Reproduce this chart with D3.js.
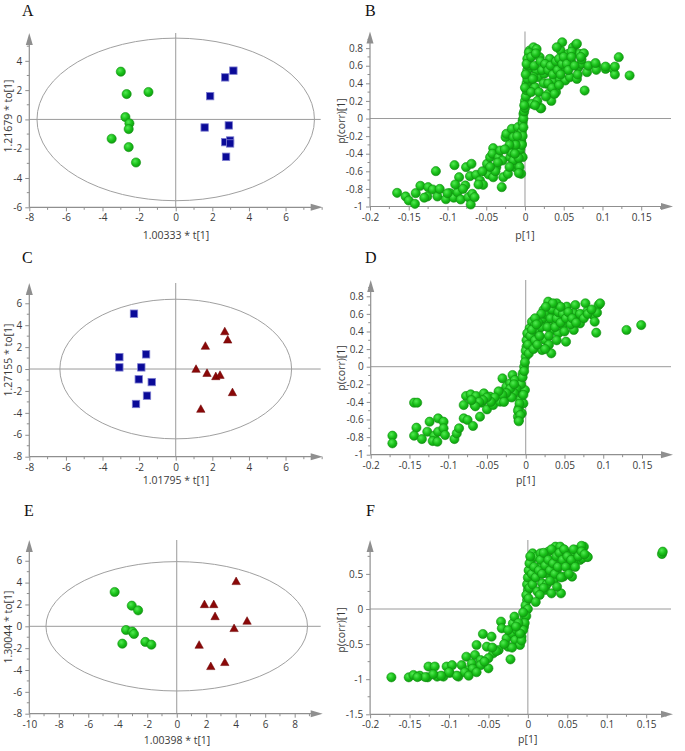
<!DOCTYPE html>
<html><head><meta charset="utf-8">
<script src="https://cdn.jsdelivr.net/npm/d3@7"></script>
<style>body{margin:0;background:#fff}svg{display:block}</style>
</head><body><svg id="c" width="685" height="751"></svg>
<script>
// ---------- DATA ----------
const panelLetters = ["A","B","C","D","E","F"];
const xTicksScoreAC = [-8,-6,-4,-2,0,2,4,6];
const yTicksScoreA = [-6,-4,-2,0,2,4];
const yTicksScoreC = [-8,-6,-4,-2,0,2,4,6];
const xTicksScoreE = [-10,-8,-6,-4,-2,0,2,4,6,8];
const yTicksScoreE = [-8,-6,-4,-2,0,2,4,6];
const xTicksLoad = [-0.2,-0.15,-0.1,-0.05,0,0.05,0.1,0.15];
const yTicksLoadBD = [-1,-0.8,-0.6,-0.4,-0.2,0,0.2,0.4,0.6,0.8];
const yTicksLoadF = [-1.5,-1,-0.5,0,0.5];
const xTitles = ["1.00333 * t[1]","p[1]","1.01795 * t[1]","p[1]","1.00398 * t[1]","p[1]"];
const yTitles = ["1.21679 * to[1]","p(corr)[1]","1.27155 * to[1]","p(corr)[1]","1.30044 * to[1]","p(corr)[1]"];
const ellipseRadii = [[7.58,5.55],null,[6.33,6.37],null,[8.87,5.92],null];

// Score plot A
const aGreen = [[-3.0,3.26],[-2.68,1.73],[-1.49,1.87],[-2.75,0.16],[-2.53,-0.27],[-2.57,-0.66],[-3.5,-1.32],[-2.57,-1.89],[-2.17,-2.94]];
const aBlue = [[3.15,3.33],[2.70,2.87],[1.88,1.59],[1.58,-0.55],[2.90,-0.41],[2.70,-1.55],[2.97,-1.44],[2.97,-1.64],[2.75,-2.55]];
// Score plot C
const cBlue = [[-2.28,5.05],[-3.08,1.09],[-3.08,0.15],[-1.62,1.34],[-1.88,0.15],[-2.02,-0.94],[-1.31,-1.19],[-1.57,-2.43],[-2.17,-3.19]];
const cRed = [[2.68,3.40],[2.84,2.64],[1.62,2.07],[1.11,-0.03],[1.71,-0.40],[2.19,-0.70],[2.42,-0.58],[3.10,-2.16],[1.37,-3.68]];
// Score plot E
const eGreen = [[-4.21,3.14],[-3.05,1.89],[-2.62,1.46],[-3.44,-0.34],[-3.01,-0.49],[-2.90,-0.70],[-3.69,-1.59],[-2.13,-1.43],[-1.72,-1.68]];
const eRed = [[4.03,4.09],[1.88,1.98],[2.51,1.98],[2.60,0.88],[4.77,0.46],[3.89,-0.21],[1.52,-1.74],[2.31,-3.69],[3.26,-3.32]];

// Loadings B
const bLoad = [[-0.165,-0.845],[-0.154,-0.886],[-0.150,-0.932],[-0.142,-0.970],[-0.141,-0.848],[-0.135,-0.765],[-0.125,-0.780],[-0.119,-0.807],[-0.115,-0.598],[-0.126,-0.886],[-0.113,-0.886],[-0.110,-0.80],[-0.102,-0.917],[-0.097,-0.848],[-0.091,-0.53],[-0.092,-0.90],[-0.087,-0.837],[-0.085,-0.667],[-0.083,-0.92],[-0.077,-0.761],[-0.076,-0.553],[-0.073,-0.894],[-0.071,-0.655],[-0.070,-0.977],[-0.068,-0.856],[-0.065,-0.894],[-0.063,-0.64],[-0.069,-0.515],[-0.058,-0.705],[-0.054,-0.754],[-0.052,-0.598],[-0.049,-0.515],[-0.045,-0.44],[-0.041,-0.337],[-0.042,-0.40],[-0.047,-0.636],[-0.041,-0.667],[-0.037,-0.553],[-0.034,-0.44],[-0.032,-0.364],[-0.029,-0.477],[-0.030,-0.78],[-0.028,-0.667],[-0.025,-0.212],[-0.024,-0.174],[-0.022,-0.629],[-0.019,-0.44],[-0.017,-0.117],[-0.018,-0.383],[-0.015,-0.212],[-0.013,-0.553],[-0.011,-0.326],[-0.009,-0.098],[-0.006,-0.40],[-0.005,-0.629],[-0.004,-0.288],[-0.003,-0.023],[-0.006,-0.174],[-0.009,-0.534],[-0.015,-0.477],[-0.003,-0.44],[-0.002,0.053],[0.000,0.20],[0.001,0.356],[0.002,0.508],[0.004,0.659],[0.006,0.773],[0.011,0.81],[0.015,0.79],[0.009,0.58],[0.006,0.43],[0.003,0.28],[0.009,0.167],[0.013,0.356],[0.017,0.47],[0.021,0.117],[0.019,0.697],[0.026,0.62],[0.028,0.394],[0.030,0.28],[0.032,0.678],[0.037,0.432],[0.039,0.564],[0.040,0.30],[0.043,0.66],[0.045,0.45],[0.046,0.773],[0.048,0.867],[0.050,0.583],[0.052,0.432],[0.056,0.735],[0.058,0.47],[0.060,0.64],[0.062,0.81],[0.066,0.84],[0.067,0.45],[0.069,0.583],[0.070,0.735],[0.073,0.62],[0.076,0.742],[0.077,0.318],[0.080,0.527],[0.082,0.60],[0.092,0.60],[0.092,0.553],[0.104,0.564],[0.114,0.564],[0.116,0.50],[0.121,0.697],[0.135,0.489],[0.041,0.81],[0.034,0.20],[0.025,0.508],[0.015,0.545],[0.011,0.47],[0.067,0.85],[0.060,0.76],[0.073,0.67],[0.091,0.63],[0.104,0.59],[0.116,0.59],[0.020,0.116],
[-0.008,-0.45],[-0.006,-0.35],[-0.005,-0.25],[-0.004,-0.15],[-0.003,-0.05],[-0.002,0.0],[-0.001,0.08],[0.0,0.12],[0.001,0.25],[0.002,0.32],[0.002,0.4],[0.003,0.45],[0.003,0.55],[0.004,0.6],[0.005,0.7],[0.005,0.75],[0.003,0.68],[0.002,0.62],[0.001,0.5],[0.0,0.35],[-0.001,0.15],[-0.002,-0.1],[-0.003,-0.2],[-0.004,-0.3],[-0.007,-0.55],[-0.008,-0.62],[-0.01,-0.2],[-0.012,-0.3],[-0.013,-0.4],[0.008,0.3],[0.01,0.45],[0.012,0.6],[0.008,0.7],[0.014,0.74],[0.02,0.65],[0.022,0.55],[0.024,0.4],[0.018,0.3],[0.016,0.2],[0.013,0.15],[0.026,0.62],[0.03,0.55],[0.033,0.6],[0.036,0.5],[0.04,0.65],[0.042,0.55],[0.044,0.68],[0.048,0.62],[0.05,0.7],[0.054,0.62],[0.056,0.55],[0.06,0.7],[0.064,0.6],[0.068,0.5],[0.072,0.7],[0.03,0.4],[0.035,0.35],[0.038,0.28],[0.027,0.25],[0.044,0.38],[0.046,0.5],[-0.02,-0.3],[-0.026,-0.35],[-0.035,-0.5],[-0.038,-0.6],[-0.045,-0.55],[-0.055,-0.6],[-0.06,-0.75],[-0.08,-0.8],[-0.1,-0.85],[-0.13,-0.9],[-0.09,-0.75],[-0.02,-0.55]];

// Loadings D
const dLoad = [[-0.172,-0.784],[-0.172,-0.871],[-0.144,-0.409],[-0.140,-0.409],[-0.141,-0.693],[-0.144,-0.784],[-0.134,-0.822],[-0.124,-0.625],[-0.127,-0.739],[-0.118,-0.784],[-0.120,-0.845],[-0.114,-0.852],[-0.113,-0.587],[-0.113,-0.739],[-0.106,-0.625],[-0.106,-0.70],[-0.104,-0.777],[-0.092,-0.822],[-0.089,-0.758],[-0.086,-0.70],[-0.080,-0.587],[-0.080,-0.436],[-0.077,-0.333],[-0.075,-0.606],[-0.068,-0.674],[-0.071,-0.314],[-0.066,-0.436],[-0.064,-0.333],[-0.059,-0.568],[-0.057,-0.409],[-0.054,-0.303],[-0.050,-0.485],[-0.046,-0.341],[-0.042,-0.436],[-0.037,-0.341],[-0.033,-0.398],[-0.030,-0.133],[-0.029,-0.284],[-0.025,-0.227],[-0.022,-0.341],[-0.020,-0.189],[-0.017,-0.095],[-0.016,-0.284],[-0.014,-0.152],[-0.010,-0.568],[-0.009,-0.606],[-0.009,-0.473],[-0.007,-0.379],[-0.005,-0.303],[-0.004,-0.076],[-0.003,-0.417],[-0.005,-0.53],[-0.001,-0.265],[-0.002,0.0],[0.000,0.114],[0.001,0.227],[0.003,0.341],[0.005,0.436],[0.008,0.511],[0.012,0.473],[0.014,0.379],[0.018,0.530],[0.025,0.303],[0.027,0.53],[0.029,0.739],[0.033,0.152],[0.034,0.417],[0.036,0.625],[0.040,0.72],[0.042,0.379],[0.044,0.568],[0.048,0.473],[0.052,0.284],[0.053,0.682],[0.057,0.549],[0.062,0.417],[0.064,0.70],[0.068,0.587],[0.070,0.492],[0.077,0.72],[0.079,0.625],[0.087,0.587],[0.089,0.511],[0.091,0.386],[0.094,0.70],[0.096,0.72],[0.092,0.614],[0.130,0.417],[0.149,0.473],[0.038,0.511],[0.023,0.644],[0.016,0.417],[0.010,0.303],[0.021,0.189],[0.062,0.606],[0.074,0.568],
[-0.006,-0.2],[-0.004,-0.12],[-0.003,-0.32],[-0.002,-0.05],[-0.001,0.05],[0.0,0.18],[0.001,0.3],[0.002,0.38],[0.003,0.25],[0.004,0.15],[-0.008,-0.42],[-0.01,-0.5],[-0.007,-0.55],[-0.009,-0.62],[-0.012,-0.25],[-0.015,-0.3],[-0.02,-0.25],[-0.018,-0.35],[-0.025,-0.3],[-0.03,-0.32],[-0.035,-0.28],[-0.04,-0.35],[-0.045,-0.4],[-0.05,-0.35],[-0.055,-0.38],[-0.06,-0.4],[-0.065,-0.45],[-0.07,-0.38],[-0.028,-0.4],[-0.015,-0.2],[0.006,0.35],[0.008,0.42],[0.01,0.2],[0.012,0.3],[0.015,0.25],[0.018,0.35],[0.02,0.45],[0.022,0.55],[0.025,0.6],[0.028,0.45],[0.03,0.35],[0.032,0.55],[0.034,0.65],[0.038,0.45],[0.04,0.55],[0.042,0.62],[0.045,0.5],[0.048,0.6],[0.05,0.4],[0.052,0.55],[0.055,0.62],[0.058,0.48],[0.06,0.55],[0.065,0.5],[0.07,0.6],[0.075,0.55],[0.08,0.6],[0.085,0.65],[0.045,0.68],[0.035,0.72],[0.026,0.68],[0.02,0.6],[0.016,0.5],[0.03,0.25],[0.025,0.2],[0.04,0.3],[0.012,0.55],[0.014,0.48]];

// Loadings F
const fLoad = [[-0.173,-0.973],[-0.151,-0.973],[-0.145,-0.94],[-0.137,-0.95],[-0.126,-0.82],[-0.127,-0.973],[-0.118,-0.82],[-0.115,-0.963],[-0.107,-0.963],[-0.103,-0.82],[-0.096,-0.80],[-0.099,-0.91],[-0.088,-0.963],[-0.084,-0.80],[-0.078,-0.68],[-0.075,-0.87],[-0.071,-0.774],[-0.067,-0.655],[-0.065,-0.513],[-0.060,-0.727],[-0.057,-0.356],[-0.052,-0.537],[-0.050,-0.845],[-0.046,-0.394],[-0.044,-0.632],[-0.037,-0.584],[-0.034,-0.18],[-0.033,-0.275],[-0.027,-0.418],[-0.025,-0.537],[-0.022,-0.717],[-0.020,-0.347],[-0.019,-0.204],[-0.017,-0.109],[-0.016,-0.442],[-0.014,-0.299],[-0.010,-0.513],[-0.008,-0.394],[-0.005,-0.252],[-0.004,-0.109],[-0.003,-0.014],[-0.001,0.128],[0.000,0.271],[0.001,0.413],[0.002,0.556],[0.004,0.698],[0.006,0.793],[0.011,0.745],[0.016,0.603],[0.018,0.366],[0.022,0.271],[0.024,0.508],[0.026,0.817],[0.030,0.223],[0.033,0.413],[0.035,0.888],[0.037,0.556],[0.039,0.698],[0.041,0.888],[0.042,0.223],[0.045,0.461],[0.049,0.793],[0.052,0.603],[0.056,0.461],[0.058,0.793],[0.062,0.84],[0.066,0.698],[0.071,0.888],[0.075,0.745],[0.069,0.722],[0.058,0.65],[0.170,0.783],[0.171,0.817],[0.022,0.745],[0.016,0.793],[0.037,0.318],[0.054,0.698],[0.068,0.90],[0.076,0.74],
[-0.003,0.05],[-0.002,0.2],[-0.001,0.35],[0.0,0.45],[0.001,0.55],[0.002,0.65],[0.003,0.75],[0.002,0.3],[0.001,0.15],[0.0,0.0],[-0.002,-0.1],[-0.004,-0.2],[-0.006,-0.3],[-0.008,-0.45],[-0.01,-0.35],[-0.012,-0.2],[-0.006,-0.05],[0.005,0.5],[0.006,0.35],[0.008,0.6],[0.01,0.45],[0.012,0.25],[0.014,0.55],[0.016,0.7],[0.018,0.5],[0.02,0.8],[0.022,0.62],[0.024,0.35],[0.026,0.7],[0.028,0.55],[0.03,0.85],[0.032,0.65],[0.034,0.5],[0.036,0.75],[0.038,0.6],[0.04,0.8],[0.042,0.45],[0.044,0.7],[0.046,0.85],[0.048,0.6],[0.05,0.75],[0.052,0.5],[0.055,0.7],[0.058,0.85],[0.06,0.6],[0.064,0.75],[0.068,0.82],[0.072,0.78],[0.028,0.4],[0.02,0.3],[0.015,0.2],[0.01,0.1],[-0.02,-0.55],[-0.03,-0.5],[-0.04,-0.6],[-0.05,-0.7],[-0.06,-0.8],[-0.07,-0.85],[-0.08,-0.9],[-0.09,-0.95],[-0.1,-0.9],[-0.11,-0.95],[-0.12,-0.93],[-0.13,-0.97],[-0.14,-0.97],[-0.075,-0.95],[-0.065,-0.9],[-0.055,-0.75],[-0.045,-0.55],[-0.025,-0.3],[-0.015,-0.25]];

// ---------- LAYOUT ----------
const panels = [
  {xd:[-8,8.03], xr:[29.3,322.7], yd:[-6,5.9], yr:[207.3,33], xt:xTicksScoreAC, yt:yTicksScoreA, xm:1, ym:1,
   letter:[22,15.5], ylab:[8,116], xlab:[176,238.5], series:[{d:aGreen,m:"c"},{d:aBlue,m:"s"}]},
  {xd:[-0.2,0.191], xr:[370,673], yd:[-1,0.989], yr:[206.5,31.5], xt:xTicksLoad, yt:yTicksLoadBD, xm:0.025, ym:0.1,
   letter:[365,15.5], ylab:[341,121], xlab:[525,239], series:[{d:bLoad,m:"c"}]},
  {xd:[-8,8.03], xr:[29.3,322.7], yd:[-8,7.85], yr:[456.7,283], xt:xTicksScoreAC, yt:yTicksScoreC, xm:1, ym:1,
   letter:[22,263], ylab:[8,360], xlab:[176,484], series:[{d:cBlue,m:"s"},{d:cRed,m:"t"}]},
  {xd:[-0.2,0.19], xr:[370.7,673], yd:[-1,0.985], yr:[454.7,280], xt:xTicksLoad, yt:yTicksLoadBD, xm:0.025, ym:0.1,
   letter:[365,263], ylab:[341,368], xlab:[525.7,483.5], series:[{d:dLoad,m:"c"}]},
  {xd:[-10,9.9], xr:[29.3,322.7], yd:[-8,7.9], yr:[713.7,540], xt:xTicksScoreE, yt:yTicksScoreE, xm:1, ym:1,
   letter:[24,516], ylab:[8,627], xlab:[177,744], series:[{d:eGreen,m:"c"},{d:eRed,m:"t"}]},
  {xd:[-0.2,0.184], xr:[370.1,673], yd:[-1.5,0.983], yr:[714.3,540], xt:xTicksLoad, yt:yTicksLoadF, xm:0.025, ym:0.25,
   letter:[366,516], ylab:[341,630], xlab:[527.7,743], series:[{d:fLoad,m:"c"}]}
];

const svg = d3.select("#c");
const defs = svg.append("defs");
const g = defs.append("radialGradient").attr("id","gball").attr("cx","38%").attr("cy","35%").attr("r","70%");
g.append("stop").attr("offset","0%").attr("stop-color","#52ea52");
g.append("stop").attr("offset","55%").attr("stop-color","#19c019");
g.append("stop").attr("offset","100%").attr("stop-color","#0e980e");

const AX = "#8f8f8f", FONT = "'Open Sans', 'DejaVu Sans', sans-serif";

panels.forEach((p,i) => {
  const x = d3.scaleLinear().domain(p.xd).range(p.xr);
  const y = d3.scaleLinear().domain(p.yd).range(p.yr);
  const gp = svg.append("g");
  const x0 = p.xr[0], y0 = p.yr[0], xEnd = p.xr[1], yEnd = p.yr[1];

  // zero lines
  gp.append("line").attr("x1",x0).attr("x2",xEnd-2).attr("y1",y(0)).attr("y2",y(0))
    .attr("stroke","#9a9a9a").attr("stroke-width",1);
  gp.append("line").attr("x1",x(0)).attr("x2",x(0)).attr("y1",y0).attr("y2",yEnd)
    .attr("stroke","#9a9a9a").attr("stroke-width",1);

  // ellipse
  if (ellipseRadii[i]) {
    const [rx,ry] = ellipseRadii[i];
    gp.append("ellipse").attr("cx",x(0)).attr("cy",y(0))
      .attr("rx",x(rx)-x(0)).attr("ry",y(0)-y(ry))
      .attr("fill","none").attr("stroke","#a0a0a0").attr("stroke-width",1);
  }

  // minor ticks
  const xMinor = d3.range(p.xt[0], p.xd[1]+1e-9, p.xm).filter(v => !p.xt.some(t => Math.abs(t-v)<1e-9));
  const yMinor = d3.range(p.yt[0], p.yd[1]+1e-9, p.ym).filter(v => !p.yt.some(t => Math.abs(t-v)<1e-9));
  gp.selectAll(null).data(xMinor).enter().append("line")
    .attr("x1",d=>x(d)).attr("x2",d=>x(d)).attr("y1",y0).attr("y2",y0+2.5).attr("stroke",AX);
  gp.selectAll(null).data(yMinor).enter().append("line")
    .attr("y1",d=>y(d)).attr("y2",d=>y(d)).attr("x1",x0).attr("x2",x0-2.5).attr("stroke",AX);

  // axes (ticks + labels)
  const xa = gp.append("g").attr("transform",`translate(0,${y0})`)
    .call(d3.axisBottom(x).tickValues(p.xt).tickSize(4).tickPadding(3).tickFormat(d => String(+d.toFixed(3))));
  const ya = gp.append("g").attr("transform",`translate(${x0},0)`)
    .call(d3.axisLeft(y).tickValues(p.yt).tickSize(4).tickPadding(3).tickFormat(d => String(+d.toFixed(3))));
  [xa,ya].forEach(a => {
    a.select(".domain").remove();
    a.selectAll(".tick line").attr("stroke",AX);
    a.selectAll(".tick text").attr("fill","#3a3a3a").style("font-family",FONT).style("font-size","10px");
  });

  // axis lines + arrows
  gp.append("line").attr("x1",x0).attr("x2",xEnd-8).attr("y1",y0).attr("y2",y0).attr("stroke",AX).attr("stroke-width",1.2);
  gp.append("line").attr("x1",x0).attr("x2",x0).attr("y1",y0).attr("y2",yEnd+8).attr("stroke",AX).attr("stroke-width",1.2);
  gp.append("path").attr("d",`M${xEnd},${y0} L${xEnd-12},${y0-3.5} L${xEnd-12},${y0+3.5} Z`).attr("fill",AX);
  gp.append("path").attr("d",`M${x0},${yEnd} L${x0-3.5},${yEnd+12} L${x0+3.5},${yEnd+12} Z`).attr("fill",AX);

  // points
  p.series.forEach(s => {
    if (s.m === "c") {
      gp.selectAll(null).data(s.d).enter().append("circle")
        .attr("cx",d=>x(d[0])).attr("cy",d=>y(d[1])).attr("r",4.6)
        .attr("fill","url(#gball)").attr("stroke","#109010").attr("stroke-width",0.6);
    } else if (s.m === "s") {
      gp.selectAll(null).data(s.d).enter().append("rect")
        .attr("x",d=>x(d[0])-3.7).attr("y",d=>y(d[1])-3.7).attr("width",7.4).attr("height",7.4)
        .attr("fill","#0a0a98").attr("stroke","#7d7dd0").attr("stroke-width",0.8);
    } else {
      gp.selectAll(null).data(s.d).enter().append("path")
        .attr("d",d=>{const cx=x(d[0]), cy=y(d[1]); return `M${cx},${cy-4.6} L${cx+4.2},${cy+3} L${cx-4.2},${cy+3} Z`;})
        .attr("fill","#8a0808").attr("stroke","#6a0000").attr("stroke-width",0.5);
    }
  });

  // titles
  gp.append("text").attr("x",p.xlab[0]).attr("y",p.xlab[1]).attr("text-anchor","middle")
    .style("font-family",FONT).style("font-size","10.5px").attr("fill","#3a3a3a").text(xTitles[i]);
  gp.append("text").attr("transform",`translate(${p.ylab[0]},${p.ylab[1]}) rotate(-90)`).attr("text-anchor","middle")
    .attr("dy","0.35em").style("font-family",FONT).style("font-size","10.5px").attr("fill","#3a3a3a").text(yTitles[i]);
  gp.append("text").attr("x",p.letter[0]).attr("y",p.letter[1])
    .style("font-family","'Liberation Serif','Times New Roman',serif").style("font-size","16px").attr("fill","#111").text(panelLetters[i]);
});
</script></body></html>
